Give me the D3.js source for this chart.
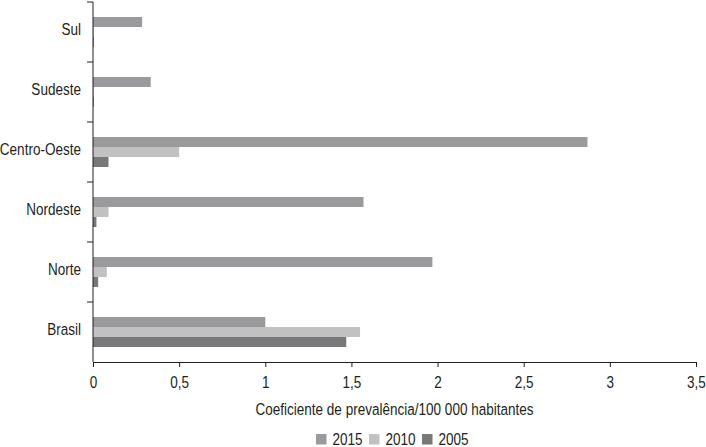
<!DOCTYPE html>
<html>
<head>
<meta charset="utf-8">
<script src="https://cdn.jsdelivr.net/npm/d3@7"></script>
<style>
  body { margin: 0; background: #fff; }
  svg text { font-family: "Liberation Sans", Arial, sans-serif; fill: #231f20; }
</style>
</head>
<body>
<script>
// regions, top to bottom
const regions = ["Sul", "Sudeste", "Centro-Oeste", "Nordeste", "Norte", "Brasil"];
const years = ["2015", "2010", "2005"];
const v2015 = [0.285, 0.335, 2.87, 1.57, 1.97, 1.0];
const v2010 = [0.005, 0.005, 0.5, 0.09, 0.08, 1.55];
const v2005 = [0.005, 0.005, 0.09, 0.02, 0.03, 1.47];
const xTicks = [0, 0.5, 1, 1.5, 2, 2.5, 3, 3.5];
const colors = { "2015": "#9a9a9c", "2010": "#c1c1c2", "2005": "#78787a" };

const width = 706, height = 447;
const margin = { top: 2, right: 10, bottom: 85, left: 93 };
const k = 0.82;     // horizontal squeeze to mimic a condensed face
const fs = 16.5;    // font size

const rows = regions.map((r, i) => ({
  region: r,
  values: [
    { year: "2015", value: v2015[i] },
    { year: "2010", value: v2010[i] },
    { year: "2005", value: v2005[i] }
  ]
}));

const svg = d3.select("body").append("svg")
  .attr("width", width)
  .attr("height", height);

const x = d3.scaleLinear()
  .domain([0, 3.5])
  .range([margin.left, width - margin.right]);

const y = d3.scaleBand()
  .domain(regions)
  .range([margin.top, height - margin.bottom]);

const yInner = d3.scaleBand()
  .domain(years)
  .range([0, y.bandwidth()])
  .paddingOuter(1.5);

// bars
svg.append("g")
  .selectAll("g")
  .data(rows)
  .join("g")
  .attr("transform", d => `translate(0,${y(d.region)})`)
  .selectAll("rect")
  .data(d => d.values)
  .join("rect")
  .attr("x", x(0))
  .attr("y", d => yInner(d.year))
  .attr("width", d => x(d.value) - x(0))
  .attr("height", yInner.bandwidth())
  .attr("fill", d => colors[d.year]);

// x axis
const xAxis = svg.append("g")
  .attr("transform", `translate(0,${height - margin.bottom})`)
  .call(d3.axisBottom(x)
    .tickValues(xTicks)
    .tickSizeOuter(0)
    .tickSize(5)
    .tickFormat(d => String(d).replace(".", ",")));
xAxis.selectAll("text")
  .attr("font-size", fs)
  .attr("y", 14)
  .attr("dy", "0.71em")
  .attr("transform", `scale(${k},1)`);
xAxis.selectAll("line, path").attr("stroke", "#231f20");

// y axis: ticks at band boundaries
const yAxis = svg.append("g")
  .attr("transform", `translate(${margin.left},0)`);
yAxis.append("line")
  .attr("y1", y.range()[0]).attr("y2", y.range()[1])
  .attr("stroke", "#231f20");
yAxis.selectAll(".bt")
  .data(regions)
  .join("line")
  .attr("class", "bt")
  .attr("x1", -6).attr("x2", 0)
  .attr("y1", d => y(d)).attr("y2", d => y(d))
  .attr("stroke", "#231f20");
yAxis.selectAll("text")
  .data(regions)
  .join("text")
  .attr("transform", d => `translate(-12,${y(d) + y.bandwidth() / 2 - 3}) scale(${k},1)`)
  .attr("dy", "0.35em")
  .attr("text-anchor", "end")
  .attr("font-size", fs)
  .text(d => d);

// axis title
svg.append("text")
  .attr("transform", `translate(${(x.range()[0] + x.range()[1]) / 2},415) scale(${k},1)`)
  .attr("text-anchor", "middle")
  .attr("font-size", fs)
  .text("Coeficiente de prevalência/100 000 habitantes");

// legend
const legend = svg.append("g")
  .attr("transform", "translate(316,434)");
const item = legend.selectAll("g")
  .data(years)
  .join("g")
  .attr("transform", (d, i) => `translate(${i * 53},0)`);
item.append("rect")
  .attr("width", 10.5).attr("height", 10.5)
  .attr("fill", d => colors[d]);
item.append("text")
  .attr("transform", `translate(16.5,10.5) scale(${k},1)`)
  .attr("font-size", fs)
  .text(d => d);
</script>
</body>
</html>
